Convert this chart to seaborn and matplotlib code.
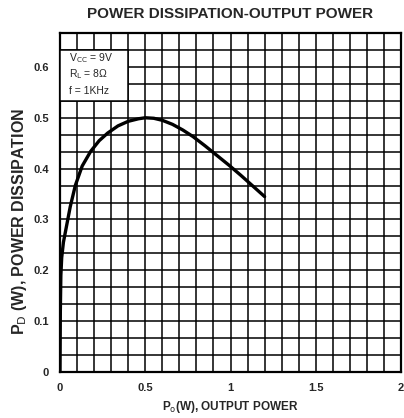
import matplotlib
matplotlib.use("Agg")
import matplotlib.pyplot as plt
import numpy as np
import pandas as pd
import seaborn as sns
from matplotlib.patches import Rectangle

sns.set_style("white")
plt.rcParams['font.family'] = ['Liberation Sans', 'DejaVu Sans']

# (Vcc = 9V, RL = 8 ohm, f = 1kHz)
po = [0, 0.002, 0.005, 0.01, 0.02, 0.04, 0.06, 0.09, 0.13, 0.18, 0.23, 0.28,
      0.34, 0.40, 0.46, 0.50, 0.55, 0.60, 0.66, 0.72, 0.78, 0.85, 0.92, 0.99,
      1.06, 1.13, 1.20]
pd_w = [0, 0.12, 0.19, 0.225, 0.255, 0.29, 0.325, 0.367, 0.405, 0.434, 0.455,
        0.47, 0.484, 0.493, 0.498, 0.5, 0.499, 0.495, 0.487, 0.476, 0.463, 0.445,
        0.426, 0.407, 0.387, 0.366, 0.345]
x_ticks = [0, 0.5, 1, 1.5, 2]
x_labels = ['0', '0.5', '1', '1.5', '2']
y_ticks = [0, 0.1, 0.2, 0.3, 0.4, 0.5, 0.6]
y_labels = ['0', '0.1', '0.2', '0.3', '0.4', '0.5', '0.6']
notes = ['V$_{\\rm CC}$ = 9V', 'R$_{\\rm L}$ = 8Ω', 'f = 1KHz']

df = pd.DataFrame({'po': po, 'pd': pd_w})

fig = plt.figure(figsize=(4.04, 4.18), dpi=100)
ax = fig.add_axes([60 / 404, 46 / 418, 341 / 404, 339 / 418])

sns.lineplot(data=df, x='po', y='pd', ax=ax, color='black', lw=2.4,
             sort=False, zorder=4)

ax.set_xlim(0, 2)
ax.set_ylim(0, 0.6667)
ax.set_xticks(x_ticks)
ax.set_xticklabels(x_labels)
ax.set_yticks(y_ticks)
ax.set_yticklabels(y_labels)
ax.set_xticks(np.arange(0, 2.01, 0.1), minor=True)
ax.set_yticks(np.arange(0, 0.667, 1 / 30), minor=True)
ax.grid(True, which='both', color='black', lw=1.1)
ax.set_axisbelow(True)
ax.tick_params(which='both', length=0, labelsize=8, pad=8)
for t in ax.get_xticklabels() + ax.get_yticklabels():
    t.set_fontweight('bold')
for s in ax.spines.values():
    s.set_color('black')
    s.set_linewidth(1.6)

# condition box hides the grid behind it
ax.add_patch(Rectangle((0, 0.5333), 0.4, 0.1, facecolor='white',
                       edgecolor='black', lw=1.1, zorder=3))
for i, s in enumerate(notes):
    ax.text(0.05, 0.618 - i * 0.033, s, fontsize=7.5, va='center',
            ha='left', zorder=5)

ax.set_xlabel('P$_{\\rm o}$(W), OUTPUT POWER', fontsize=8.5,
              fontweight='bold', labelpad=4)
ax.set_ylabel('P$_{\\rm D}$ (W), POWER DISSIPATION', fontsize=11.5,
              fontweight='bold')
ax.yaxis.set_label_coords(-0.09, 0.445)
fig.text(230 / 404, 1 - 14 / 418, 'POWER DISSIPATION-OUTPUT POWER',
         fontsize=11, fontweight='bold', ha='center', va='center')

fig.savefig('out.png', dpi=100)
